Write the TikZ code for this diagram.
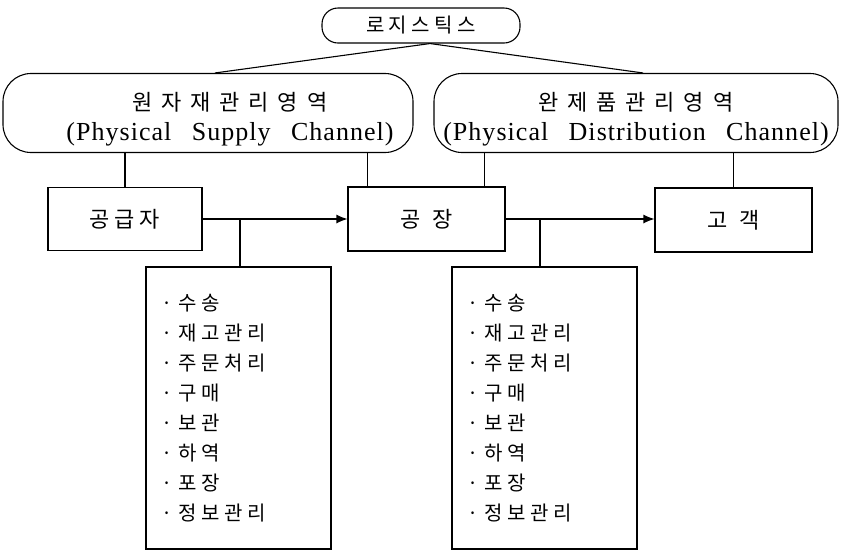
\documentclass[tikz,border=0pt]{standalone}
\usepackage{fontspec}
\setmainfont{Liberation Serif}
\newfontfamily\kr[LetterSpace=22]{Noto Sans CJK KR}
\newfontfamily\krwide[LetterSpace=40]{Noto Sans CJK KR}
\newfontfamily\lat[LetterSpace=4, WordSpace=2.7]{Liberation Serif}
\usepackage{tikz}
\usetikzlibrary{positioning, arrows.meta, calc}

\tikzset{
  area/.style={draw, line width=1.1pt, rounded corners=28pt, align=center,
    font=\fontsize{22}{30}\selectfont},
  unit/.style={draw, line width=1.1pt, font=\kr\fontsize{22}{24}\selectfont},
  tasks/.style={draw, line width=1.1pt, align=left, text width=155pt, inner xsep=14pt,
    minimum width=185pt, minimum height=282pt, font=\kr\fontsize{20}{30}\selectfont},
  link/.style={line width=1.1pt},
}
\newcommand{\areatext}[3]{\rule{0pt}{31pt}\hspace*{#1}{\krwide #2}\\\hspace*{#1}{\lat\fontsize{26}{30}\selectfont #3}}

\begin{document}
\begin{tikzpicture}[x=1pt, y=-1pt, >={Latex[length=11pt,width=9pt]}]
  \useasboundingbox (0,0) rectangle (842,550);
  % top
  \node[unit, rounded corners=16pt, minimum width=198pt, minimum height=35pt, inner sep=0pt,
        font=\kr\fontsize{20}{22}\selectfont] (logis) at (421,25.5) {로지스틱스};
  \node[area, minimum width=410pt, minimum height=79pt] (supply) at (208,113)
    {\areatext{44pt}{원자재관리영역}{(Physical Supply Channel)}};
  \node[area, minimum width=404pt, minimum height=79pt] (distrib) at (636,113)
    {\areatext{0pt}{완제품관리영역}{(Physical Distribution Channel)}};
  \draw[link] ([xshift=9pt]logis.south) -- ([xshift=7pt]supply.north);
  \draw[link] ([xshift=9pt]logis.south) -- ([xshift=7pt]distrib.north);

  % flow
  \node[unit, minimum width=154pt, minimum height=63pt] (supplier) at (125,219) {공급자};
  \node[unit, minimum width=157pt, minimum height=64pt] (factory) at (426.5,219) {공\hspace{12pt}장};
  \node[unit, minimum width=157pt, minimum height=64pt] (customer) at (733.5,220) {고\hspace{12pt}객};
  \draw[link,->] (supplier.east) -- (factory.west);
  \draw[link,->] (factory.east) -- (factory.east -| customer.west);

  \draw[link] (supplier.north) -- (supplier.north |- supply.south);
  \draw[link] ([xshift=20pt]factory.north west) -- ([xshift=20pt]factory.north west |- supply.south);
  \draw[link] ([xshift=-21pt]factory.north east) -- ([xshift=-21pt]factory.north east |- distrib.south);
  \draw[link] (customer.north) -- (customer.north |- distrib.south);

  % lists
  \node[tasks] (supplylist) at (238.5,408)
    {· 수송\\· 재고관리\\· 주문처리\\· 구매\\· 보관\\· 하역\\· 포장\\· 정보관리};
  \node[tasks] (distlist) at (544.5,408)
    {· 수송\\· 재고관리\\· 주문처리\\· 구매\\· 보관\\· 하역\\· 포장\\· 정보관리};
  \draw[link] ([xshift=1.5pt]supplylist.north) -- ([xshift=1.5pt]supplylist.north |- supplier.east);
  \draw[link] ([xshift=-4.5pt]distlist.north) -- ([xshift=-4.5pt]distlist.north |- factory.east);
\end{tikzpicture}
\end{document}
